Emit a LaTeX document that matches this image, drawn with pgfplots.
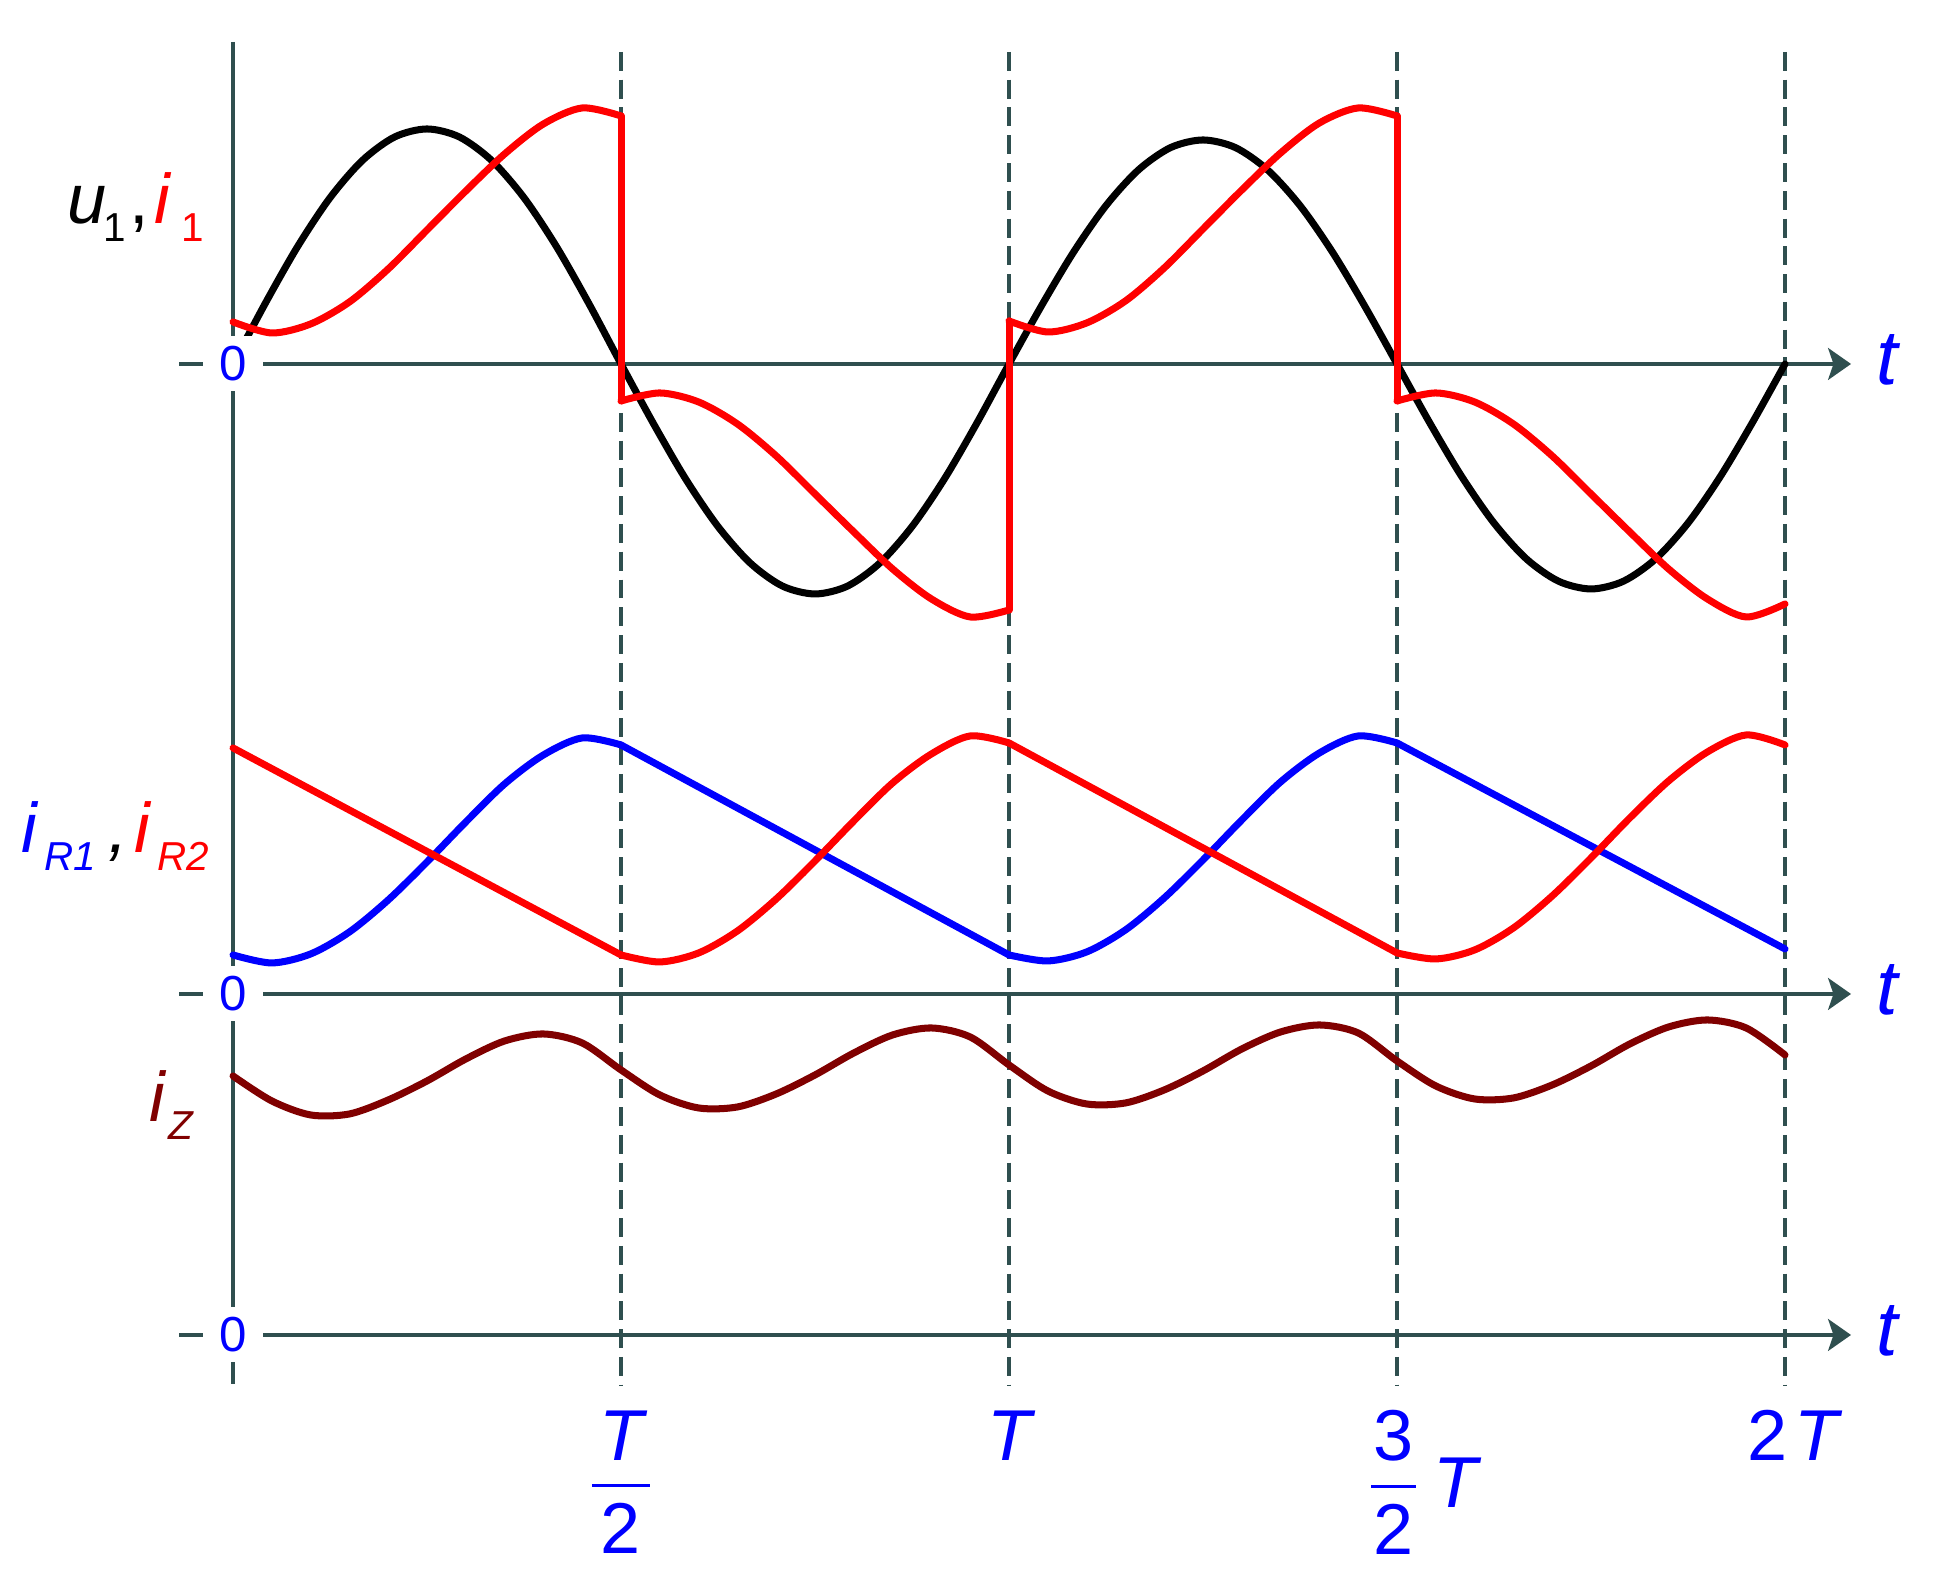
\documentclass[border=0pt]{standalone}
\usepackage{fontspec}
\setmainfont{Liberation Sans}
\usepackage{amsmath}
\usepackage{pgfplots}
\usepackage{pgfplotstable}
\pgfplotsset{compat=1.18}
\usetikzlibrary{arrows.meta}

\definecolor{axisgray}{HTML}{2F4F4F}
\definecolor{izbrown}{HTML}{800000}

% x in units of T, y in picture units above each panel's zero line
\pgfplotsset{
  panel/.style={scale only axis, width=19.44cm, height=15.86cm,
    xmin=-0.3003, xmax=2.2049, hide axis, clip=false,
    at={(0,0)}, anchor=south west},
  curve/.style={line width=2pt, line cap=round, line join=round},
}
\tikzset{
  period/.style={axisgray, line width=1.1pt, dash pattern=on 5.4pt off 2.5pt},
  timeaxis/.style={axisgray, line width=1.35pt, -{Stealth[length=6.5pt,width=9pt,inset=1.5pt]}},
  zero/.style={fill=white, inner sep=0, minimum width=6mm, minimum height=5.5mm,
    text=blue, font=\fontsize{14}{16}\selectfont},
  tlab/.style={text=blue, inner sep=0, font=\fontsize{22}{24}\selectfont\itshape},
  ticklab/.style={text=blue, inner sep=0, font=\fontsize{20.5}{24}\selectfont},
}
\newcommand{\sub}[1]{\raisebox{-5.1pt}{\fontsize{11.5}{12}\selectfont #1}}
\newcommand{\num}[1]{\mbox{\raisebox{-1.6pt}{#1}}}

% u1 (black)
\pgfplotstableread{
t v
0 0
0.0417 60.8
0.0833 117.5
0.125 166.2
0.1667 203.5
0.2083 227.0
0.25 235
0.2917 227.0
0.3333 203.5
0.375 166.2
0.4167 117.5
0.4583 60.8
0.5 0
0.5417 -59.5
0.5833 -115
0.625 -162.6
0.6667 -199.2
0.7083 -222.2
0.75 -230
0.7917 -222.2
0.8333 -199.2
0.875 -162.6
0.9167 -115
0.9583 -59.5
1 0
1.0417 58.0
1.0833 112
1.125 158.4
1.1667 194.0
1.2083 216.4
1.25 224
1.2917 216.4
1.3333 194.0
1.375 158.4
1.4167 112
1.4583 58.0
1.5 0
1.5417 -58.2
1.5833 -112.5
1.625 -159.1
1.6667 -194.9
1.7083 -217.3
1.75 -225
1.7917 -217.3
1.8333 -194.9
1.875 -159.1
1.9167 -112.5
1.9583 -58.2
2 0
}\uone

% i1 (red), one table per half period
\pgfplotstableread{
t v
0 42
0.05 31
0.1 40
0.15 62
0.2 95
0.25 134
0.3 173
0.35 210
0.4 240
0.45 256
0.5 248
}\ioneA
\pgfplotstableread{
t v
0.5 -37
0.55 -29
0.6 -38
0.65 -60
0.7 -92
0.75 -130
0.8 -168
0.85 -205
0.9 -235
0.95 -253
1 -246
}\ioneB
\pgfplotstableread{
t v
1 43
1.05 32
1.1 41
1.15 63
1.2 96
1.25 135
1.3 174
1.35 211
1.4 241
1.45 256
1.5 248
}\ioneC
\pgfplotstableread{
t v
1.5 -37
1.55 -29
1.6 -38
1.65 -60
1.7 -92
1.75 -130
1.8 -168
1.85 -205
1.9 -235
1.95 -253
2 -240
}\ioneD

% iR1 (blue) rising parts
\pgfplotstableread{
t v
0 39
0.05 31
0.1 40
0.15 62
0.2 94
0.25 132
0.3 172
0.35 210
0.4 239
0.45 256
0.5 249
}\irA
\pgfplotstableread{
t v
1 39
1.05 33
1.1 42
1.15 64
1.2 96
1.25 134
1.3 174
1.35 212
1.4 241
1.45 258
1.5 251
}\irB

% iR2 (red) rising parts
\pgfplotstableread{
t v
0.5 39
0.55 32
0.6 41
0.65 63
0.7 95
0.75 133
0.8 173
0.85 211
0.9 240
0.95 258
1 251
}\irC
\pgfplotstableread{
t v
1.5 41
1.55 35
1.6 44
1.65 66
1.7 98
1.75 136
1.8 176
1.85 213
1.9 242
1.95 259
2 249
}\irD

% iZ (brown)
\pgfplotstableread{
t v
0 259
0.05 234
0.1 220
0.15 221
0.2 235
0.25 254
0.3 276
0.35 294
0.4 301
0.45 292
0.5 265
0.55 240
0.6 227
0.65 228
0.7 241
0.75 260
0.8 282
0.85 300
0.9 307
0.95 298
1 270
1.05 244
1.1 231
1.15 232
1.2 245
1.25 264
1.3 286
1.35 303
1.4 310
1.45 302
1.5 274
1.55 249
1.6 236
1.65 237
1.7 250
1.75 269
1.8 291
1.85 308
1.9 315
1.95 307
2 280
}\iz

\begin{document}
\begin{tikzpicture}
% panel 1 (u1, i1) and the frame work
\begin{axis}[panel, ymin=-1222, ymax=364]
\path (rel axis cs:0,0) rectangle (rel axis cs:1,1);
% vertical axis and dashed period lines
\draw[axisgray, line width=1.4pt] (0,322) -- (0,-1020);
\draw[period] (0.5,312) -- (0.5,-1021);
\draw[period] (1,312) -- (1,-1021);
\draw[period] (1.5,312) -- (1.5,-1021);
\draw[period] (2,312) -- (2,-1021);
% time axes
\draw[timeaxis] (-0.0696,0) -- (2.0851,0);
\draw[timeaxis] (-0.0696,-630) -- (2.0851,-630);
\draw[timeaxis] (-0.0696,-971) -- (2.0851,-971);

\addplot[curve, black, smooth] table[x=t, y=v] {\uone};
\addplot[curve, red, smooth] table[x=t, y=v] {\ioneA};
\addplot[curve, red, smooth] table[x=t, y=v] {\ioneB};
\addplot[curve, red, smooth] table[x=t, y=v] {\ioneC};
\addplot[curve, red, smooth] table[x=t, y=v] {\ioneD};
\addplot[curve, red, sharp plot] coordinates {(0.5,248) (0.5,-37)};
\addplot[curve, red, sharp plot] coordinates {(1,-246) (1,43)};
\addplot[curve, red, sharp plot] coordinates {(1.5,248) (1.5,-37)};

% zero marks and t labels
\node[zero] at (0,0) {0};
\node[zero] at (0,-630) {0};
\node[zero] at (0,-971) {0};
\node[tlab] at (2.1314,4) {t};
\node[tlab] at (2.1314,-626) {t};
\node[tlab] at (2.1314,-967) {t};

% curve names
\node[anchor=base west, inner sep=0, font=\fontsize{20}{24}\selectfont] at (-0.2139,140)
  {\textit{u}\kern-1pt\sub{1}\kern1pt,\kern1.7pt\textcolor{red}{\textit{i}\kern2.7pt\sub{1}}};
\node[anchor=base west, inner sep=0, font=\fontsize{20}{24}\selectfont] at (-0.2732,-489)
  {\textcolor{blue}{\textit{i}\kern1.5pt\sub{\itshape R1}}\kern3.5pt\textit{,}\kern2pt\textcolor{red}{\textit{i}\kern1.5pt\sub{\itshape R2}}};
\node[anchor=base west, inner sep=0, font=\fontsize{20}{24}\selectfont, text=izbrown] at (-0.1082,-758)
  {\textit{i}\kern0.5pt\sub{\itshape Z}};

% time labels
\node[ticklab, anchor=north] at (0.5,-1046)
  {$\dfrac{\num{\kern2pt\itshape T\kern2pt}}{\mbox{2}}$};
\node[ticklab, anchor=north] at (1,-1046) {\itshape T};
\node[ticklab, anchor=north] at (1.4961,-1046)
  {$\dfrac{\num{\kern0.7pt 3\kern0.7pt}}{\mbox{2}}$};
\node[ticklab, anchor=west] at (1.5464,-1119) {\itshape T};
\node[ticklab, anchor=north] at (2.0103,-1046) {2\kern2pt\itshape T};
\end{axis}

% panel 2 (iR1, iR2)
\begin{axis}[panel, ymin=-592, ymax=994]
\addplot[curve, blue, smooth] table[x=t, y=v] {\irA};
\addplot[curve, blue, sharp plot] coordinates {(0.5,249) (1,39)};
\addplot[curve, blue, smooth] table[x=t, y=v] {\irB};
\addplot[curve, blue, sharp plot] coordinates {(1.5,251) (2,45)};
\addplot[curve, red, sharp plot] coordinates {(0,246) (0.5,39)};
\addplot[curve, red, smooth] table[x=t, y=v] {\irC};
\addplot[curve, red, sharp plot] coordinates {(1,251) (1.5,41)};
\addplot[curve, red, smooth] table[x=t, y=v] {\irD};
\end{axis}

% panel 3 (iZ)
\begin{axis}[panel, ymin=-251, ymax=1335]
\addplot[curve, izbrown, smooth] table[x=t, y=v] {\iz};
\end{axis}
\end{tikzpicture}
\end{document}
